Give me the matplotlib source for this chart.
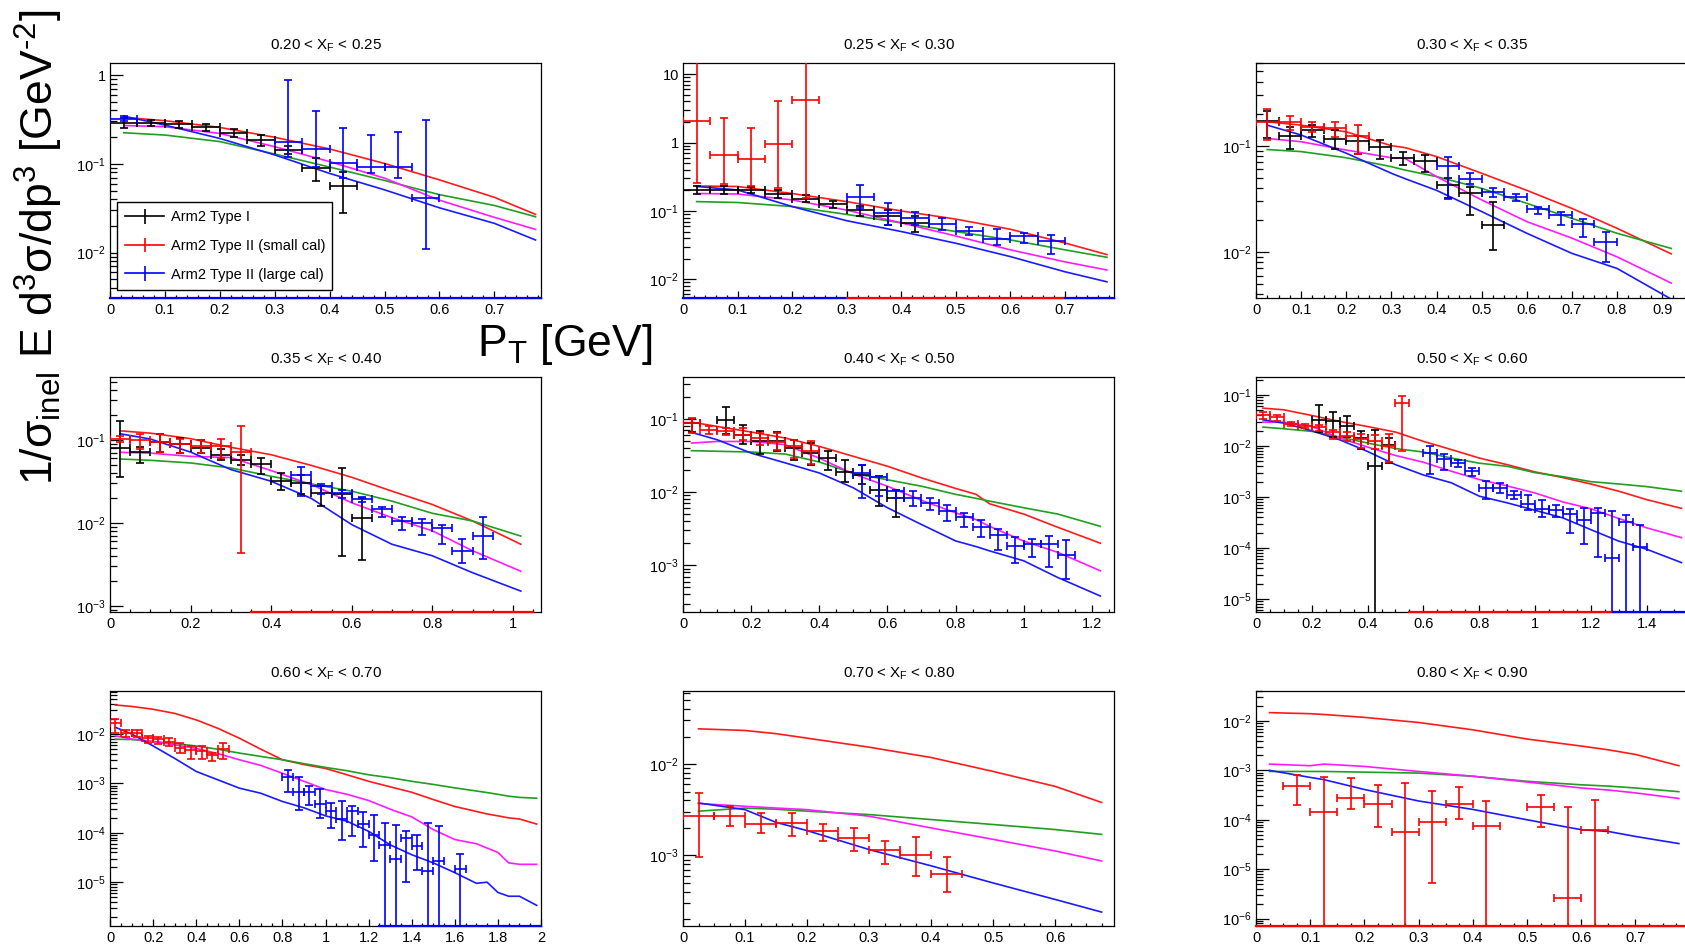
import numpy as np
import matplotlib
matplotlib.use("Agg")
import matplotlib.pyplot as plt
from matplotlib.ticker import LogLocator, NullFormatter, FuncFormatter, MultipleLocator, AutoMinorLocator
from matplotlib.lines import Line2D

plt.rcParams['font.family'] = ['Liberation Sans', 'DejaVu Sans']
plt.rcParams['mathtext.fontset'] = 'custom'
plt.rcParams['mathtext.rm'] = 'Liberation Sans'
plt.rcParams['mathtext.it'] = 'Liberation Sans:italic'
plt.rcParams['mathtext.default'] = 'regular'

# ---------------- data: rows are [pT, value, lower, upper] ----------------
xf_bins = [("0.20", "0.25"), ("0.25", "0.30"), ("0.30", "0.35"),
           ("0.35", "0.40"), ("0.40", "0.50"), ("0.50", "0.60"),
           ("0.60", "0.70"), ("0.70", "0.80"), ("0.80", "0.90")]
half_bin = 0.025

# panel 1
p1_type1 = [[0.025, 0.286, 0.255, 0.325], [0.075, 0.29, 0.265, 0.31], [0.125, 0.278, 0.25, 0.30],
            [0.175, 0.258, 0.235, 0.28], [0.225, 0.225, 0.20, 0.245], [0.275, 0.185, 0.16, 0.21],
            [0.325, 0.145, 0.13, 0.16], [0.375, 0.089, 0.064, 0.117], [0.425, 0.056, 0.028, 0.082]]
p1_small = []
p1_large = [[0.025, 0.32, 0.30, 0.345], [0.325, 0.175, 0.12, 0.88], [0.375, 0.146, 0.093, 0.39],
            [0.425, 0.103, 0.069, 0.25], [0.475, 0.091, 0.078, 0.21], [0.525, 0.091, 0.07, 0.226],
            [0.575, 0.041, 0.011, 0.31]]
p1_x = [0.025, 0.1, 0.2, 0.3, 0.4, 0.5, 0.6, 0.7, 0.775]
p1_red = [0.334, 0.306, 0.257, 0.199, 0.147, 0.101, 0.066, 0.042, 0.027]
p1_green = [0.224, 0.211, 0.178, 0.129, 0.092, 0.065, 0.045, 0.034, 0.0254]
p1_magenta = [0.27, 0.262, 0.22, 0.156, 0.106, 0.069, 0.039, 0.025, 0.0183]
p1_blue = [0.345, 0.273, 0.193, 0.126, 0.078, 0.051, 0.032, 0.0214, 0.0139]
p1_zero = [["large", 0.0, 0.785]]

# panel 2
p2_type1 = [[0.025, 0.203, 0.18, 0.23], [0.075, 0.203, 0.18, 0.23], [0.125, 0.205, 0.185, 0.225],
            [0.175, 0.177, 0.155, 0.20], [0.225, 0.148, 0.135, 0.17], [0.275, 0.125, 0.11, 0.14],
            [0.325, 0.103, 0.085, 0.12], [0.375, 0.0855, 0.062, 0.104], [0.425, 0.0675, 0.05, 0.085]]
p2_small = [[0.025, 2.1, 0.254, 30], [0.075, 0.653, 0.25, 2.32], [0.125, 0.57, 0.23, 1.66],
            [0.175, 0.955, 0.22, 4.1], [0.225, 4.17, 0.153, 30]]
p2_large = [[0.325, 0.162, 0.112, 0.238], [0.375, 0.0946, 0.062, 0.132], [0.425, 0.0798, 0.062, 0.098],
            [0.475, 0.0645, 0.052, 0.078], [0.525, 0.0504, 0.044, 0.058], [0.575, 0.0385, 0.032, 0.055],
            [0.625, 0.0436, 0.034, 0.048], [0.675, 0.036, 0.0235, 0.045]]
p2_x = [0.025, 0.1, 0.2, 0.3, 0.4, 0.5, 0.6, 0.7, 0.777]
p2_red = [0.232, 0.228, 0.18, 0.137, 0.1, 0.076, 0.054, 0.034, 0.023]
p2_green = [0.137, 0.133, 0.116, 0.089, 0.067, 0.05, 0.0377, 0.027, 0.021]
p2_magenta = [0.18, 0.177, 0.145, 0.103, 0.067, 0.043, 0.027, 0.018, 0.0137]
p2_blue = [0.228, 0.203, 0.116, 0.072, 0.05, 0.0337, 0.0215, 0.0129, 0.0092]
p2_zero = [["large", 0.0, 0.3], ["small", 0.3, 0.7], ["large", 0.7, 0.79]]

# panel 3
p3_type1 = [[0.025, 0.17, 0.118, 0.21], [0.075, 0.123, 0.094, 0.151], [0.125, 0.14, 0.12, 0.155],
            [0.175, 0.1155, 0.094, 0.14], [0.225, 0.11, 0.083, 0.123], [0.275, 0.0965, 0.0745, 0.113],
            [0.325, 0.077, 0.066, 0.088], [0.375, 0.072, 0.057, 0.082], [0.425, 0.0427, 0.032, 0.05],
            [0.475, 0.0356, 0.0223, 0.041], [0.525, 0.018, 0.0104, 0.0297]]
p3_small = [[0.025, 0.168, 0.113, 0.22], [0.075, 0.168, 0.14, 0.19], [0.125, 0.151, 0.135, 0.168],
            [0.175, 0.146, 0.12, 0.166], [0.225, 0.123, 0.0835, 0.156]]
p3_large = [[0.425, 0.0644, 0.0315, 0.079], [0.475, 0.049, 0.0436, 0.055], [0.525, 0.0369, 0.033, 0.040],
            [0.575, 0.033, 0.030, 0.035], [0.625, 0.0254, 0.023, 0.0267], [0.675, 0.0223, 0.018, 0.024],
            [0.725, 0.0182, 0.0137, 0.0203], [0.775, 0.0123, 0.0081, 0.0153]]
p3_x = [0.025, 0.1, 0.2, 0.3, 0.33, 0.4, 0.5, 0.6, 0.7, 0.8, 0.92]
p3_red = [0.168, 0.156, 0.135, 0.1, 0.096, 0.079, 0.055, 0.038, 0.0257, 0.0167, 0.0096]
p3_green = [0.092, 0.088, 0.077, 0.0635, 0.059, 0.0512, 0.0397, 0.0287, 0.0207, 0.015, 0.0108]
p3_magenta = [0.117, 0.109, 0.091, 0.077, 0.076, 0.0512, 0.0309, 0.0193, 0.0135, 0.009, 0.0051]
p3_blue = [0.156, 0.126, 0.085, 0.055, 0.049, 0.038, 0.024, 0.015, 0.0097, 0.007, 0.0036]
p3_zero = []

# panel 4
p4_type1 = [[0.025, 0.079, 0.0356, 0.169], [0.075, 0.0705, 0.0525, 0.0817], [0.125, 0.093, 0.071, 0.117],
            [0.175, 0.0896, 0.069, 0.105], [0.225, 0.079, 0.069, 0.098], [0.275, 0.066, 0.0575, 0.078],
            [0.325, 0.0575, 0.049, 0.066], [0.375, 0.051, 0.0387, 0.061], [0.425, 0.0316, 0.0247, 0.04],
            [0.475, 0.0302, 0.022, 0.038], [0.525, 0.0229, 0.0158, 0.0276], [0.575, 0.0223, 0.004, 0.0457],
            [0.625, 0.0113, 0.0036, 0.0196]]
p4_small = [[0.025, 0.102, 0.095, 0.11], [0.075, 0.1, 0.077, 0.117], [0.125, 0.093, 0.0705, 0.117],
            [0.175, 0.0896, 0.069, 0.102], [0.225, 0.083, 0.069, 0.098], [0.275, 0.083, 0.06, 0.103],
            [0.325, 0.071, 0.0043, 0.147]]
p4_large = [[0.475, 0.038, 0.021, 0.0465], [0.525, 0.0275, 0.022, 0.029], [0.575, 0.0225, 0.0199, 0.0247],
            [0.625, 0.0194, 0.018, 0.0203], [0.675, 0.0145, 0.0118, 0.0156], [0.725, 0.0105, 0.0082, 0.0118],
            [0.775, 0.0098, 0.0071, 0.0112], [0.825, 0.0087, 0.0055, 0.0095], [0.875, 0.0046, 0.0033, 0.0064],
            [0.925, 0.007, 0.0037, 0.0118]]
p4_x = [0.025, 0.1, 0.2, 0.3, 0.4, 0.5, 0.6, 0.7, 0.8, 0.9, 1.02]
p4_red = [0.128, 0.12, 0.103, 0.081, 0.066, 0.049, 0.0353, 0.024, 0.0166, 0.0105, 0.0055]
p4_green = [0.0586, 0.0565, 0.0525, 0.0457, 0.0363, 0.0293, 0.024, 0.0182, 0.013, 0.0105, 0.0069]
p4_magenta = [0.0705, 0.069, 0.063, 0.061, 0.0425, 0.0288, 0.0174, 0.0115, 0.008, 0.0046, 0.0026]
p4_blue = [0.118, 0.102, 0.071, 0.0437, 0.0316, 0.0196, 0.0095, 0.0055, 0.004, 0.0025, 0.0015]
p4_zero = [["small", 0.35, 1.05]]

# panel 5
p5_type1 = [[0.025, 0.088, 0.065, 0.1], [0.125, 0.097, 0.062, 0.147], [0.175, 0.0606, 0.045, 0.083],
            [0.225, 0.049, 0.033, 0.0686], [0.275, 0.05, 0.0367, 0.066], [0.325, 0.04, 0.0277, 0.0518],
            [0.375, 0.0341, 0.0237, 0.0466], [0.425, 0.0292, 0.0202, 0.0367], [0.475, 0.0186, 0.0137, 0.0277],
            [0.525, 0.0173, 0.0129, 0.0232], [0.575, 0.0106, 0.0064, 0.0168], [0.625, 0.0083, 0.0045, 0.0108]]
p5_small = [[0.025, 0.0873, 0.0638, 0.104], [0.075, 0.0708, 0.0618, 0.0787], [0.125, 0.0686, 0.0606, 0.076],
            [0.175, 0.0606, 0.0518, 0.0746], [0.225, 0.0546, 0.0443, 0.0638], [0.275, 0.0482, 0.0379, 0.0638],
            [0.325, 0.042, 0.0292, 0.0518], [0.375, 0.036, 0.0242, 0.05]]
p5_large = [[0.525, 0.0182, 0.0083, 0.0232], [0.575, 0.0159, 0.0088, 0.0168], [0.625, 0.0102, 0.0083, 0.0108],
            [0.675, 0.0082, 0.0064, 0.0102], [0.725, 0.0071, 0.0057, 0.0082], [0.775, 0.0055, 0.004, 0.0066],
            [0.825, 0.0045, 0.0033, 0.0052], [0.875, 0.0033, 0.0024, 0.0041], [0.925, 0.0026, 0.0016, 0.0031],
            [0.975, 0.00183, 0.00109, 0.0024], [1.025, 0.00197, 0.00131, 0.00225], [1.075, 0.00197, 0.00095, 0.0025],
            [1.125, 0.00138, 0.00065, 0.00219]]
p5_x = [0.025, 0.1, 0.2, 0.3, 0.4, 0.5, 0.6, 0.7, 0.8, 0.86, 0.9, 1.0, 1.1, 1.225]
p5_red = [0.09, 0.0787, 0.0659, 0.0546, 0.042, 0.0307, 0.0225, 0.0156, 0.0112, 0.0093, 0.0069, 0.005, 0.0033, 0.002]
p5_green = [0.0367, 0.036, 0.0352, 0.033, 0.0257, 0.018, 0.0147, 0.012, 0.0093, 0.0082, 0.0075, 0.0061, 0.005, 0.0034]
p5_magenta = [0.0466, 0.049, 0.049, 0.0443, 0.029, 0.0177, 0.012, 0.0077, 0.0052, 0.0042, 0.0034, 0.00214, 0.0015, 0.00084]
p5_blue = [0.0652, 0.0518, 0.034, 0.025, 0.0182, 0.0114, 0.0061, 0.0036, 0.00215, 0.0018, 0.00157, 0.00115, 0.00068, 0.00038]
p5_zero = []

# panel 6
p6_type1 = [[0.225, 0.0325, 0.0187, 0.0638], [0.275, 0.031, 0.0147, 0.047], [0.325, 0.0249, 0.0147, 0.0378],
            [0.375, 0.0143, 0.0089, 0.0198], [0.425, 0.004, 0, 0.0207], [0.475, 0.0103, 0.0046, 0.0143]]
p6_small = [[0.025, 0.0407, 0.034, 0.047], [0.075, 0.0361, 0.031, 0.0395], [0.125, 0.0272, 0.0249, 0.029],
            [0.175, 0.0249, 0.0224, 0.0268], [0.225, 0.0234, 0.0192, 0.0259], [0.275, 0.0184, 0.0139, 0.0208],
            [0.325, 0.016, 0.0123, 0.0187], [0.375, 0.0137, 0.0091, 0.017], [0.425, 0.0123, 0.0089, 0.0166],
            [0.475, 0.0098, 0.0049, 0.017], [0.525, 0.0709, 0.008, 0.093]]
p6_large = [[0.625, 0.0073, 0.0028, 0.0101], [0.675, 0.0056, 0.0034, 0.0071], [0.725, 0.00465, 0.0038, 0.0052],
            [0.775, 0.0032, 0.0026, 0.0037], [0.825, 0.00147, 0.00093, 0.0021], [0.875, 0.0015, 0.0012, 0.0019],
            [0.925, 0.00112, 0.00093, 0.00129], [0.975, 0.00074, 0.00055, 0.00112], [1.025, 0.00059, 0.0004, 0.00089],
            [1.075, 0.00055, 0.0004, 0.0007], [1.125, 0.00046, 0.0002, 0.00057], [1.175, 0.00035, 0.000118, 0.00061],
            [1.225, 0.00049, 6.7e-5, 0.00062], [1.275, 6.5e-5, 0, 0.00053], [1.325, 0.00033, 0, 0.00044],
            [1.375, 0.000105, 0, 0.00028]]
p6_x = [0.025, 0.1, 0.2, 0.3, 0.4, 0.5, 0.6, 0.7, 0.8, 0.9, 1.0, 1.1, 1.2, 1.3, 1.4, 1.525]
p6_red = [0.055, 0.051, 0.0395, 0.0302, 0.024, 0.0187, 0.0123, 0.0085, 0.0058, 0.0043, 0.0031, 0.0024, 0.0018, 0.0013, 0.00089, 0.0006]
p6_green = [0.0234, 0.0217, 0.0193, 0.015, 0.0114, 0.0089, 0.0076, 0.0058, 0.0046, 0.004, 0.003, 0.0025, 0.002, 0.0018, 0.0016, 0.0013]
p6_magenta = [0.0293, 0.029, 0.0241, 0.0143, 0.0095, 0.0065, 0.0048, 0.0032, 0.0022, 0.00165, 0.0012, 0.0008, 0.00059, 0.00038, 0.00025, 0.00016]
p6_blue = [0.0325, 0.028, 0.0198, 0.0132, 0.0078, 0.0043, 0.0027, 0.0019, 0.00104, 0.00077, 0.00055, 0.00039, 0.00023, 0.000137, 9.5e-5, 5.2e-5]
p6_zero = [["small", 0.55, 1.28], ["large", 1.28, 1.545]]

# panel 7
p7_type1 = []
p7_small = [[0.025, 0.0164, 0.0106, 0.0198], [0.075, 0.0103, 0.0088, 0.012], [0.125, 0.0106, 0.0088, 0.012],
            [0.175, 0.0082, 0.0067, 0.0091], [0.225, 0.0078, 0.0063, 0.0088], [0.275, 0.007, 0.0056, 0.0082],
            [0.325, 0.0051, 0.0041, 0.0065], [0.375, 0.00475, 0.0031, 0.0057], [0.425, 0.0046, 0.0031, 0.0057],
            [0.475, 0.0038, 0.0028, 0.0042], [0.525, 0.0049, 0.0031, 0.0067]]
p7_large = [[0.825, 0.00134, 0.00066, 0.00188], [0.875, 0.00066, 0.00029, 0.00134], [0.925, 0.00066, 0.00036, 0.00087],
            [0.975, 0.00039, 0.0002, 0.00077], [1.025, 0.00027, 0.000125, 0.0004], [1.075, 0.00019, 7e-5, 0.00043],
            [1.125, 0.00028, 8.8e-5, 0.00035], [1.175, 0.000153, 5.2e-5, 0.00026], [1.225, 9.2e-5, 2.65e-5, 0.00023],
            [1.275, 5.7e-5, 0, 0.00016], [1.325, 2.95e-5, 0, 0.000143], [1.375, 7.8e-5, 1e-5, 0.000107],
            [1.425, 5.3e-5, 1.8e-5, 9e-5], [1.475, 1.67e-5, 0, 0.00016], [1.525, 2.65e-5, 0, 0.000135],
            [1.625, 1.86e-5, 0, 3.7e-5]]
p7_x = [0.025, 0.1, 0.2, 0.3, 0.4, 0.5, 0.6, 0.7, 0.8, 0.9, 1.0, 1.1, 1.2, 1.3, 1.4, 1.5, 1.6, 1.7, 1.75, 1.8, 1.85, 1.9, 1.98]
p7_red = [0.0385, 0.036, 0.0315, 0.026, 0.0192, 0.013, 0.0082, 0.0049, 0.003, 0.0024, 0.002, 0.00149, 0.0011,
          0.00085, 0.00066, 0.00047, 0.00034, 0.00027, 0.00024, 0.00022, 0.0002, 0.00019, 0.00015]
p7_green = [0.0078, 0.0077, 0.007, 0.0064, 0.0057, 0.0049, 0.0041, 0.0035, 0.003, 0.0025, 0.0021, 0.0018, 0.00149,
            0.0013, 0.0011, 0.00095, 0.00081, 0.0007, 0.00065, 0.0006, 0.00055, 0.00052, 0.0005]
p7_magenta = [0.0091, 0.0079, 0.007, 0.006, 0.0051, 0.004, 0.003, 0.0023, 0.0016, 0.0011, 0.00075, 0.0006, 0.00045,
              0.0003, 0.00021, 0.000116, 7.3e-5, 6e-5, 4.9e-5, 4e-5, 2.46e-5, 2.3e-5, 2.3e-5]
p7_blue = [0.0136, 0.01, 0.0057, 0.0032, 0.00174, 0.00118, 0.0008, 0.00063, 0.00043, 0.00032, 0.00022, 0.000171,
           0.000107, 5.7e-5, 3.6e-5, 2.46e-5, 1.56e-5, 9.5e-6, 1.0e-5, 6.2e-6, 5.2e-6, 5.2e-6, 3.4e-6]
p7_zero = [["large", 1.25, 2.0]]

# panel 8
p8_type1 = []
p8_small = [[0.025, 0.00269, 0.00096, 0.0048], [0.075, 0.00269, 0.0021, 0.0035], [0.125, 0.00223, 0.00174, 0.0029],
            [0.175, 0.00227, 0.00165, 0.0029], [0.225, 0.00187, 0.00143, 0.0022], [0.275, 0.00156, 0.00112, 0.002],
            [0.325, 0.00116, 0.0008, 0.00143], [0.375, 0.00101, 0.00059, 0.00158], [0.425, 0.00062, 0.0004, 0.00096]]
p8_large = []
p8_x = [0.025, 0.1, 0.15, 0.2, 0.3, 0.4, 0.5, 0.6, 0.675]
p8_red = [0.0243, 0.0233, 0.0215, 0.0192, 0.0153, 0.0118, 0.0083, 0.0057, 0.0038]
p8_green = [0.00305, 0.0033, 0.0032, 0.00305, 0.0028, 0.00247, 0.00218, 0.00192, 0.0017]
p8_magenta = [0.0037, 0.00345, 0.0033, 0.00317, 0.00269, 0.002, 0.0015, 0.00112, 0.00087]
p8_blue = [0.00375, 0.00317, 0.0023, 0.00187, 0.00116, 0.00077, 0.0005, 0.00033, 0.00024]
p8_zero = []

# panel 9
p9_type1 = []
p9_small = [[0.075, 0.000489, 0.0002, 0.00079], [0.125, 0.000142, 0, 0.00073], [0.175, 0.000275, 0.000167, 0.0007],
            [0.225, 0.000212, 7e-5, 0.00051], [0.275, 5.6e-5, 0, 0.00055], [0.325, 9e-5, 5.3e-6, 0.00038],
            [0.375, 0.000212, 0.000103, 0.00046], [0.425, 7.6e-5, 0, 0.00024], [0.525, 0.000185, 7.2e-5, 0.00032],
            [0.575, 2.65e-6, 0, 0.000181], [0.625, 6.1e-5, 0, 0.000255]]
p9_large = []
p9_x = [0.025, 0.1, 0.125, 0.2, 0.3, 0.4, 0.5, 0.6, 0.65, 0.7, 0.78]
p9_red = [0.0147, 0.014, 0.0135, 0.0118, 0.0093, 0.0066, 0.0043, 0.0031, 0.0026, 0.0021, 0.00124]
p9_green = [0.00095, 0.00095, 0.00095, 0.00092, 0.00088, 0.00076, 0.0006, 0.00051, 0.00048, 0.00044, 0.00037]
p9_magenta = [0.00134, 0.00124, 0.00134, 0.0012, 0.00095, 0.00076, 0.00058, 0.00044, 0.0004, 0.00035, 0.00027]
p9_blue = [0.001, 0.00072, 0.00065, 0.00041, 0.00024, 0.000162, 0.0001, 6.3e-5, 5.8e-5, 4.6e-5, 3.3e-5]
p9_zero = [["small", 0.0, 0.795]]

# axis ranges
x_max = [0.785, 0.79, 0.955, 1.07, 1.265, 1.545, 2.0, 0.695, 0.795]
y_lims = [(3.09e-3, 1.365), (5.33e-3, 14.6), (3.69e-3, 0.60),
          (8.4e-4, 0.57), (2.3e-4, 0.372), (5.6e-6, 0.224),
          (1.3e-6, 0.0738), (1.69e-4, 0.063), (7.1e-7, 0.0403)]
x_major = [0.1, 0.1, 0.1, 0.2, 0.2, 0.2, 0.2, 0.1, 0.1]
x_minor = [5, 5, 4, 4, 4, 4, 4, 4, 4]

panels = [
    (p1_type1, p1_small, p1_large, p1_x, p1_red, p1_green, p1_magenta, p1_blue, p1_zero),
    (p2_type1, p2_small, p2_large, p2_x, p2_red, p2_green, p2_magenta, p2_blue, p2_zero),
    (p3_type1, p3_small, p3_large, p3_x, p3_red, p3_green, p3_magenta, p3_blue, p3_zero),
    (p4_type1, p4_small, p4_large, p4_x, p4_red, p4_green, p4_magenta, p4_blue, p4_zero),
    (p5_type1, p5_small, p5_large, p5_x, p5_red, p5_green, p5_magenta, p5_blue, p5_zero),
    (p6_type1, p6_small, p6_large, p6_x, p6_red, p6_green, p6_magenta, p6_blue, p6_zero),
    (p7_type1, p7_small, p7_large, p7_x, p7_red, p7_green, p7_magenta, p7_blue, p7_zero),
    (p8_type1, p8_small, p8_large, p8_x, p8_red, p8_green, p8_magenta, p8_blue, p8_zero),
    (p9_type1, p9_small, p9_large, p9_x, p9_red, p9_green, p9_magenta, p9_blue, p9_zero),
]

series_col = {"type1": "black", "small": "#ff0000", "large": "#0000ff"}
model_col = ["#ff1a1a", "#1f9e1f", "#ff1aff", "#1a1aff"]

W, H = 1685, 944
fig = plt.figure(figsize=(W / 100, H / 100), dpi=100)
col_left = [110, 683, 1256]
row_top = [63, 377, 691]
aw, ah = 431, 235


def yfmt(v, pos):
    e = int(round(np.log10(v)))
    if e == 0:
        return "1"
    if e == 1:
        return "10"
    return r"$10^{%d}$" % e


def draw_points(ax, rows, color):
    if not rows:
        return
    d = np.array(rows, dtype=float)
    x, y, lo, hi = d[:, 0], d[:, 1], d[:, 2], d[:, 3]
    ax.errorbar(x, y, xerr=half_bin, yerr=[y - lo, hi - y], fmt='none', ecolor=color,
                elinewidth=1.2, capsize=2.6, capthick=1.2, zorder=3)


axes = []
for i, (t1, sm, lg, mx, mr, mg, mm, mb, zero) in enumerate(panels):
    r, c = divmod(i, 3)
    ax = fig.add_axes([col_left[c] / W, 1 - (row_top[r] + ah) / H, aw / W, ah / H])
    axes.append(ax)
    ax.set_yscale('log', nonpositive='clip')

    for yy, col in zip([mr, mg, mm, mb], model_col):
        ax.plot(mx, yy, color=col, lw=1.2, zorder=2)

    draw_points(ax, t1, series_col["type1"])
    draw_points(ax, sm, series_col["small"])
    draw_points(ax, lg, series_col["large"])

    for name, x0, x1 in zero:
        ax.plot([x0, x1], [0, 0], transform=ax.get_xaxis_transform(), color=series_col[name],
                lw=1.6, clip_on=False, zorder=4)

    ax.set_xlim(0, x_max[i])
    ax.set_ylim(*y_lims[i])
    ax.xaxis.set_major_locator(MultipleLocator(x_major[i]))
    ax.xaxis.set_minor_locator(AutoMinorLocator(x_minor[i]))
    ax.xaxis.set_major_formatter(FuncFormatter(lambda v, p: "%g" % round(v, 3)))
    ax.yaxis.set_major_locator(LogLocator(base=10, numticks=30))
    ax.yaxis.set_minor_locator(LogLocator(base=10, subs=np.arange(2, 10), numticks=200))
    ax.yaxis.set_major_formatter(FuncFormatter(yfmt))
    ax.yaxis.set_minor_formatter(NullFormatter())

    ax.tick_params(axis='both', which='both', direction='in', top=False, right=False,
                   labelsize=10.5, color='black')
    ax.tick_params(axis='x', which='major', length=5, width=0.9, pad=3.5)
    ax.tick_params(axis='x', which='minor', length=2.5, width=0.9)
    ax.tick_params(axis='y', which='major', length=9.3, width=0.9, pad=3)
    ax.tick_params(axis='y', which='minor', length=4.7, width=0.9)
    for s in ax.spines.values():
        s.set_linewidth(0.9)

    lo_s, hi_s = xf_bins[i]
    ax.set_title(lo_s + r" < X$_{F}$ < " + hi_s, fontsize=10.9, pad=10)

# legend in the first panel
ax0 = axes[0]
handles = []
for key in ["type1", "small", "large"]:
    col = series_col[key]
    ln = Line2D([], [], color=col, lw=1.2)
    eb = ax0.errorbar([], [], yerr=[], fmt='none', ecolor=col, elinewidth=1.2,
                      capsize=2.6, capthick=1.2)
    handles.append((ln, eb))
leg = ax0.legend(handles, ["Arm2 Type I", "Arm2 Type II (small cal)", "Arm2 Type II (large cal)"],
                 loc='upper left', bbox_to_anchor=(0.0155, 0.0455, 0.4988, 0.3645), mode='expand',
                 borderaxespad=0, fontsize=10.5, frameon=True, fancybox=False, framealpha=1,
                 edgecolor='black', borderpad=0.6, labelspacing=1.0, handlelength=2.65,
                 handletextpad=0.5)
leg.get_frame().set_linewidth(1.0)

# common axis labels
fig.text(38.5 / W, 1 - 10 / H, r"1/σ$_{inel}$ E d$^{3}$σ/dp$^{3}$ [GeV$^{\text{-}2}$]",
         rotation=90, ha='center', va='top', fontsize=32)
fig.text(477 / W, 1 - 356 / H, r"P$_{T}$ [GeV]", ha='left', va='baseline', fontsize=32)

fig.savefig("out.png", dpi=100)
